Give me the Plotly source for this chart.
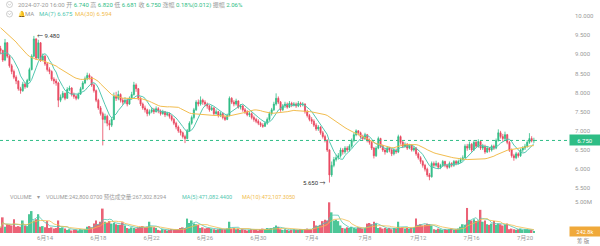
import pandas as pd
import plotly.graph_objects as go

# ---------------- data (4h candles) ----------------
start_time = "2024-06-10 16:00"
first_open = 9.15

close = [
    9.10, 8.85, 9.30, 8.95, 8.70, 8.55, 8.40, 8.30, 8.10, 8.05,
    8.22, 8.15, 8.32, 8.60, 8.95, 9.40, 8.90, 9.30, 8.85, 8.95,
    8.75, 8.60, 8.55, 8.35, 8.30, 8.25, 7.80, 7.88, 7.98, 7.85,
    8.08, 8.12, 7.95, 7.90, 7.85, 7.96, 8.10, 8.25, 8.36, 8.45,
    8.40, 8.20, 8.05, 7.80, 7.60, 7.45, 7.30, 7.38, 7.20, 7.15,
    7.30, 7.90, 7.85, 7.95, 7.80, 7.75, 7.80, 7.70, 7.85, 7.95,
    8.20, 8.10, 7.85, 7.70, 7.60, 7.55, 7.45, 7.50, 7.55, 7.50,
    7.58, 7.52, 7.45, 7.50, 7.42, 7.45, 7.38, 7.30, 7.20, 7.10,
    7.00, 6.95, 6.85, 6.80, 7.00, 7.20, 7.35, 7.55, 7.75, 7.70,
    7.80, 7.75, 7.70, 7.65, 7.55, 7.60, 7.45, 7.50, 7.40, 7.45,
    7.35, 7.30, 7.40, 7.85, 7.75, 7.70, 7.78, 7.62, 7.65, 7.55,
    7.50, 7.42, 7.45, 7.35, 7.30, 7.25, 7.20, 7.15, 7.12, 7.20,
    7.30, 7.45, 7.55, 7.70, 7.85, 7.75, 7.55, 7.65, 7.70, 7.62,
    7.72, 7.68, 7.70, 7.65, 7.72, 7.68, 7.70, 7.50, 7.40, 7.30,
    7.25, 7.15, 7.05, 7.10, 6.95, 6.85, 6.75, 6.50, 5.85, 6.10,
    6.25, 6.30, 6.35, 6.50, 6.45, 6.55, 6.50, 6.60, 6.75, 6.90,
    7.00, 6.95, 6.85, 6.80, 6.90, 6.75, 6.70, 6.55, 6.35, 6.55,
    6.80, 6.60, 6.50, 6.45, 6.55, 6.50, 6.40, 6.50, 6.45, 6.85,
    6.70, 6.60, 6.65, 6.55, 6.62, 6.50, 6.55, 6.40, 6.30, 6.20,
    6.10, 6.00, 5.85, 5.80, 6.15, 6.10, 6.15, 6.05, 6.10, 6.20,
    6.10, 6.05, 6.15, 6.10, 6.20, 6.15, 6.20, 6.25, 6.30, 6.60,
    6.55, 6.65, 6.50, 6.70, 6.60, 6.72, 6.55, 6.60, 6.45, 6.55,
    6.50, 6.60, 6.55, 6.75, 6.95, 6.85, 6.80, 6.90, 6.70, 6.50,
    6.35, 6.30, 6.40, 6.35, 6.50, 6.55, 6.60, 6.70, 6.80, 6.74,
    6.75,
]

high = [
    9.22, 9.12, 9.40, 9.32, 8.98, 8.75, 8.60, 8.45, 8.32, 8.15,
    8.28, 8.26, 8.36, 8.65, 9.00, 9.48, 9.42, 9.38, 9.32, 9.02,
    8.98, 8.78, 8.66, 8.58, 8.40, 8.36, 8.28, 7.95, 8.04, 8.00,
    8.14, 8.18, 8.14, 8.00, 7.94, 8.00, 8.15, 8.30, 8.42, 8.52,
    8.50, 8.42, 8.24, 8.08, 7.84, 7.65, 7.50, 7.45, 7.42, 7.28,
    7.36, 8.00, 8.02, 8.05, 7.98, 7.86, 7.88, 7.84, 7.90, 8.02,
    8.28, 8.24, 8.12, 7.88, 7.74, 7.66, 7.58, 7.56, 7.62, 7.60,
    7.64, 7.62, 7.56, 7.55, 7.52, 7.50, 7.48, 7.42, 7.34, 7.24,
    7.14, 7.05, 6.98, 6.90, 7.05, 7.25, 7.40, 7.60, 7.80, 7.82,
    7.90, 7.84, 7.80, 7.74, 7.68, 7.66, 7.62, 7.56, 7.52, 7.50,
    7.48, 7.40, 7.45, 7.90, 7.88, 7.80, 7.84, 7.80, 7.70, 7.68,
    7.60, 7.54, 7.50, 7.48, 7.40, 7.34, 7.30, 7.24, 7.20, 7.25,
    7.35, 7.50, 7.60, 7.76, 7.98, 7.90, 7.78, 7.70, 7.76, 7.74,
    7.78, 7.76, 7.75, 7.74, 7.78, 7.76, 7.75, 7.72, 7.55, 7.44,
    7.36, 7.30, 7.20, 7.15, 7.12, 7.00, 6.90, 6.78, 6.52, 6.20,
    6.32, 6.38, 6.42, 6.56, 6.55, 6.60, 6.60, 6.65, 6.80, 6.95,
    7.04, 7.02, 6.98, 6.90, 6.95, 6.92, 6.80, 6.74, 6.58, 6.60,
    6.85, 6.82, 6.64, 6.55, 6.60, 6.58, 6.54, 6.55, 6.54, 6.90,
    6.88, 6.74, 6.70, 6.68, 6.66, 6.64, 6.60, 6.58, 6.44, 6.34,
    6.24, 6.14, 6.04, 5.90, 6.20, 6.20, 6.22, 6.18, 6.14, 6.24,
    6.22, 6.14, 6.20, 6.18, 6.24, 6.24, 6.25, 6.30, 6.36, 6.65,
    6.66, 6.72, 6.68, 6.76, 6.74, 6.78, 6.74, 6.66, 6.64, 6.60,
    6.58, 6.64, 6.64, 6.80, 7.04, 7.00, 6.92, 6.98, 6.92, 6.74,
    6.54, 6.40, 6.45, 6.44, 6.54, 6.60, 6.66, 6.76, 6.94, 6.86,
    6.82,
]

low = [
    9.00, 8.80, 8.82, 8.90, 8.65, 8.48, 8.35, 8.22, 8.05, 7.97,
    8.02, 8.10, 8.12, 8.30, 8.58, 8.92, 8.85, 8.88, 8.80, 8.82,
    8.70, 8.55, 8.48, 8.30, 8.22, 8.18, 7.62, 7.75, 7.85, 7.80,
    7.84, 8.04, 7.90, 7.84, 7.80, 7.82, 7.94, 8.08, 8.22, 8.32,
    8.34, 8.15, 8.00, 7.75, 7.55, 7.40, 6.62, 7.20, 7.12, 7.02,
    7.10, 7.28, 7.78, 7.80, 7.74, 7.68, 7.70, 7.64, 7.68, 7.82,
    7.92, 8.02, 7.80, 7.65, 7.55, 7.48, 7.38, 7.40, 7.46, 7.44,
    7.48, 7.46, 7.40, 7.42, 7.36, 7.38, 7.32, 7.25, 7.15, 7.04,
    6.95, 6.88, 6.80, 6.68, 6.78, 6.98, 7.16, 7.30, 7.52, 7.64,
    7.66, 7.68, 7.64, 7.58, 7.50, 7.52, 7.40, 7.42, 7.35, 7.36,
    7.30, 7.26, 7.28, 7.38, 7.70, 7.64, 7.66, 7.58, 7.56, 7.50,
    7.44, 7.38, 7.36, 7.30, 7.24, 7.20, 7.15, 7.10, 7.08, 7.10,
    7.16, 7.26, 7.40, 7.52, 7.66, 7.70, 7.50, 7.52, 7.60, 7.58,
    7.60, 7.62, 7.64, 7.60, 7.62, 7.62, 7.64, 7.45, 7.35, 7.25,
    7.18, 7.10, 7.00, 7.00, 6.90, 6.80, 6.70, 6.45, 5.65, 5.80,
    6.05, 6.20, 6.25, 6.30, 6.38, 6.40, 6.45, 6.46, 6.56, 6.70,
    6.86, 6.88, 6.80, 6.74, 6.76, 6.70, 6.64, 6.50, 6.28, 6.32,
    6.52, 6.55, 6.45, 6.38, 6.42, 6.44, 6.34, 6.36, 6.40, 6.42,
    6.64, 6.55, 6.56, 6.50, 6.52, 6.46, 6.46, 6.35, 6.25, 6.14,
    6.04, 5.94, 5.80, 5.71, 5.78, 6.04, 6.06, 6.00, 6.00, 6.06,
    6.05, 6.00, 6.02, 6.05, 6.06, 6.10, 6.12, 6.16, 6.22, 6.28,
    6.48, 6.50, 6.45, 6.48, 6.55, 6.56, 6.50, 6.50, 6.40, 6.42,
    6.44, 6.46, 6.50, 6.52, 6.72, 6.80, 6.72, 6.76, 6.65, 6.45,
    6.30, 6.22, 6.26, 6.30, 6.32, 6.44, 6.50, 6.56, 6.66, 6.70,
    6.681,
]

# volume in millions
volume_m = [
    0.8, 2.5, 1.0, 1.4, 1.3, 1.2, 2.2, 1.0, 1.1, 1.0,
    2.0, 1.2, 1.1, 3.0, 3.5, 2.0, 2.2, 3.0, 1.0, 1.1,
    0.9, 1.9, 0.8, 0.9, 0.7, 0.8, 2.0, 0.8, 0.9, 0.7,
    0.5, 0.6, 0.4, 0.5, 0.5, 0.4, 0.6, 0.5, 0.6, 1.0,
    1.1, 0.9, 1.5, 2.0, 1.4, 1.8, 3.9, 1.8, 1.6, 1.9,
    1.5, 1.6, 1.4, 1.3, 1.3, 1.7, 1.2, 0.8, 0.7, 0.9,
    0.8, 0.7, 0.9, 1.0, 1.1, 0.9, 1.0, 1.8, 1.0, 0.9,
    0.8, 0.5, 0.4, 0.6, 0.5, 0.4, 0.5, 0.6, 0.5, 0.5,
    0.6, 0.8, 0.9, 0.8, 2.3, 1.6, 2.0, 1.5, 1.4, 1.3,
    0.8, 0.9, 0.7, 0.8, 0.8, 0.7, 0.6, 0.5, 0.6, 0.7,
    0.6, 0.6, 0.7, 1.8, 0.7, 0.8, 0.6, 0.7, 0.5, 0.6,
    0.5, 0.4, 0.5, 0.6, 0.5, 0.5, 0.4, 0.6, 0.7, 0.6,
    0.8, 0.7, 0.8, 0.9, 1.2, 1.0, 0.6, 0.5, 0.6, 0.5,
    0.4, 0.5, 0.6, 0.5, 0.5, 0.6, 0.5, 0.6, 0.7, 0.6,
    0.6, 1.9, 1.2, 1.1, 1.3, 1.9, 2.1, 2.0, 4.9, 3.3,
    2.0, 2.1, 1.9, 1.2, 0.8, 0.7, 0.9, 0.8, 1.0, 0.8,
    0.7, 0.9, 0.8, 0.7, 0.8, 1.5, 1.6, 1.4, 1.8, 1.5,
    0.8, 0.9, 0.7, 0.8, 0.7, 0.8, 0.6, 0.8, 0.7, 1.8,
    0.8, 0.9, 0.7, 0.8, 0.7, 0.8, 0.9, 2.3, 1.3, 1.4,
    1.2, 1.3, 1.5, 1.4, 1.2, 0.6, 0.5, 0.7, 0.6, 0.5,
    0.6, 0.5, 0.6, 0.7, 0.5, 0.6, 0.7, 1.0, 1.4, 1.3,
    4.0, 2.1, 2.0, 2.2, 1.9, 2.0, 3.7, 1.8, 2.0, 1.4,
    1.3, 1.5, 1.9, 1.3, 1.5, 1.4, 1.2, 1.3, 1.5, 0.6,
    0.7, 0.6, 0.5, 0.6, 0.7, 0.5, 0.6, 0.6, 0.5, 0.5,
    0.2428,
]

# closes before the visible window (estimated from where the MA lines start)
warmup_close = [
    10.45, 10.40, 10.35, 10.30, 10.32, 10.25, 10.20, 10.22, 10.15, 10.10,
    10.12, 10.05, 10.00, 10.02, 9.95, 9.60, 9.50, 9.45, 9.30, 9.35,
    9.20, 9.15, 9.10, 9.05, 9.00, 9.10, 9.02, 8.95, 9.05,
]

tick_dates = ["2024-06-14", "2024-06-18", "2024-06-22", "2024-06-26", "2024-06-30",
              "2024-07-04", "2024-07-08", "2024-07-12", "2024-07-16", "2024-07-20"]
tick_labels = ["6月14", "6月18", "6月22", "6月26", "6月30",
               "7月4", "7月8", "7月12", "7月16", "7月20"]
price_ticks = [5.5, 6.0, 6.5, 7.0, 7.5, 8.0, 8.5, 9.0, 9.5, 10.0]

assert len(close) == len(high) == len(low) == len(volume_m), (len(close), len(high), len(low), len(volume_m))

# ---------------- derived ----------------
n = len(close)
times = pd.date_range(start_time, periods=n, freq="4h")
open_ = [first_open] + close[:-1]
high = [max(h, o, c) for h, o, c in zip(high, open_, close)]
low = [min(l, o, c) for l, o, c in zip(low, open_, close)]
volume = [v * 1e6 for v in volume_m]

full = pd.Series(warmup_close + close)
ma7 = full.rolling(7).mean().iloc[len(warmup_close):].tolist()
ma30 = full.rolling(30).mean().iloc[len(warmup_close):].tolist()
vs = pd.Series(volume)
vma5 = vs.rolling(5, min_periods=1).mean().tolist()
vma10 = vs.rolling(10, min_periods=1).mean().tolist()

UP = "#2ebd85"
DOWN = "#e8475f"
MA_A = "#52c7b0"
MA_B = "#f2bd4f"
GRAY = "#9a9a9a"
FONT = "Roboto, Noto Sans CJK SC, sans-serif"

W_PLOT, H_PLOT = 568, 233


def px(x):
    return x / W_PLOT


def py(y):
    return 1 - y / H_PLOT


fig = go.Figure()
fig.add_trace(go.Candlestick(
    x=times, open=open_, high=high, low=low, close=close,
    increasing=dict(line=dict(color=UP, width=0.8), fillcolor=UP),
    decreasing=dict(line=dict(color=DOWN, width=0.8), fillcolor=DOWN),
    whiskerwidth=0, xaxis="x", yaxis="y", showlegend=False, hoverinfo="skip",
))
fig.add_trace(go.Scatter(x=times, y=ma7, mode="lines", line=dict(color=MA_A, width=1),
                         xaxis="x", yaxis="y", showlegend=False, hoverinfo="skip"))
fig.add_trace(go.Scatter(x=times, y=ma30, mode="lines", line=dict(color=MA_B, width=1),
                         xaxis="x", yaxis="y", showlegend=False, hoverinfo="skip"))

vol_colors = [UP if c >= o else DOWN for o, c in zip(open_, close)]
fig.add_trace(go.Bar(x=times, y=volume, marker=dict(color=vol_colors, line=dict(width=0)),
                     opacity=0.85, xaxis="x", yaxis="y2", showlegend=False, hoverinfo="skip"))
fig.add_trace(go.Scatter(x=times, y=vma5, mode="lines", line=dict(color=MA_A, width=0.8),
                         xaxis="x", yaxis="y2", showlegend=False, hoverinfo="skip"))
fig.add_trace(go.Scatter(x=times, y=vma10, mode="lines", line=dict(color=MA_B, width=0.8),
                         xaxis="x", yaxis="y2", showlegend=False, hoverinfo="skip"))

# x range so that 6/14 00:00 sits 45px from the left edge, 13.33px per day
px_per_day = 13.333
x0 = pd.Timestamp("2024-06-14") - pd.Timedelta(days=45 / px_per_day)
x1 = x0 + pd.Timedelta(days=W_PLOT / px_per_day)

fig.update_layout(
    width=600, height=246,
    margin=dict(l=0, r=32, t=0, b=13),
    paper_bgcolor="white", plot_bgcolor="white",
    font=dict(family=FONT, size=6, color=GRAY),
    bargap=0.25,
    xaxis=dict(type="date", range=[x0, x1], anchor="y2", rangeslider=dict(visible=False),
               tickvals=tick_dates, ticktext=tick_labels, showgrid=False, zeroline=False,
               showline=False, ticks="", tickfont=dict(size=6, color=GRAY)),
    yaxis=dict(domain=[py(193), 1], range=[10 - (193 - 16) / 38.29, 10 + 16 / 38.29],
               side="right", tickvals=price_ticks, ticktext=[f"{v:.3f}" for v in price_ticks],
               showgrid=False, zeroline=False, showline=False, ticks="",
               ticklabelstandoff=6, tickfont=dict(size=6, color=GRAY)),
    yaxis2=dict(domain=[0, py(199)], range=[0, (233 - 199) / 6.26 * 1e6], side="right",
                tickvals=[5e6], ticktext=["5.00M"], showgrid=False, zeroline=False,
                showline=False, ticks="", ticklabelstandoff=6, tickfont=dict(size=6, color=GRAY)),
)

shapes = []
# last price dashed line
shapes.append(dict(type="line", xref="paper", yref="y", x0=0, x1=1.0, y0=close[-1], y1=close[-1],
                   line=dict(color=UP, width=1, dash="3px,3px")))
# small header icons (circle with chevron)
for cy in (4.5, 14):
    shapes.append(dict(type="circle", xref="paper", yref="paper", x0=px(6.5), x1=px(12.5),
                       y0=py(cy + 3), y1=py(cy - 3), line=dict(color="#b0b0b0", width=0.6)))
    shapes.append(dict(type="path", xref="paper", yref="paper",
                       path=f"M {px(8)},{py(cy - 0.8)} L {px(9.5)},{py(cy + 0.8)} L {px(11)},{py(cy - 0.8)}",
                       line=dict(color="#b0b0b0", width=0.6)))
fig.update_layout(shapes=shapes)

ann = []


def txt(x, y, text, size=6, color=GRAY, anchor="left"):
    ann.append(dict(xref="paper", yref="paper", x=px(x), y=py(y), text=text, showarrow=False,
                    xanchor=anchor, yanchor="middle", font=dict(size=size, color=color, family=FONT)))


def g(v):
    return f'<span style="color:{UP}">{v}</span>'


line1 = ("2024-07-20 16:00 开 " + g("6.740") + " 高 " + g("6.820") + " 低 " + g("6.681") +
         " 收 " + g("6.750") + " 涨幅 " + g("0.18%(0.012)") + " 振幅 " + g("2.06%"))
txt(15.5, 4.5, line1, size=6)
txt(15.5, 14, "🔔MA", size=6)
txt(37, 14, "MA(7) 6.675", size=6, color=MA_A)
txt(73, 14, "MA(30) 6.594", size=6, color=MA_B)

txt(8, 197, "VOLUME", size=5.5)
txt(35, 197, "▾", size=5.5)
txt(44, 197, "VOLUME:242,800.0700 预估成交量:267,302.8294", size=5.5)
txt(180, 197, "MA(5):471,082.4400", size=5.5, color=MA_A)
txt(240, 197, "MA(10):472,107.3050", size=5.5, color=MA_B)

# extreme markers
i_hi = high.index(max(high))
i_lo = low.index(min(low))
ann.append(dict(xref="x", yref="y", x=times[i_hi], y=high[i_hi], text=f"← {high[i_hi]:.3f}",
                showarrow=False, xanchor="left", yanchor="middle", xshift=1,
                font=dict(size=6, color="#333333", family=FONT)))
ann.append(dict(xref="x", yref="y", x=times[i_lo], y=low[i_lo], text=f"{low[i_lo]:.3f} →",
                showarrow=False, xanchor="right", yanchor="middle", xshift=-1,
                font=dict(size=6, color="#333333", family=FONT)))

# last price / last volume labels
ann.append(dict(xref="paper", yref="y", x=px(569), y=close[-1], text=f"{close[-1]:.3f}",
                showarrow=False, xanchor="left", yanchor="middle", bgcolor=UP,
                width=28, height=8, borderpad=1, font=dict(size=6, color="white", family=FONT)))
ann.append(dict(xref="paper", yref="y2", x=px(569), y=volume[-1], text=f"{volume[-1] / 1000:.1f}k",
                showarrow=False, xanchor="left", yanchor="middle", bgcolor="#f0a93a",
                width=28, height=7, borderpad=1, font=dict(size=5.5, color="white", family=FONT)))
txt(583, 241, "筹 版", size=5.5, color="#888888", anchor="center")

fig.update_layout(annotations=ann)
fig.write_html("out.html")
